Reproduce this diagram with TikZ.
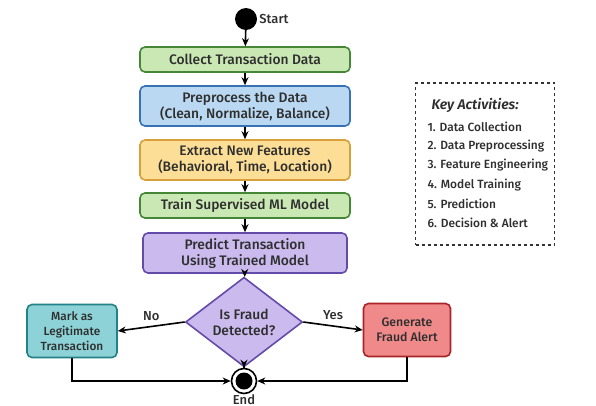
\documentclass[tikz,border=0pt]{standalone}
\usepackage{fontspec}
\setmainfont{Fira Sans}[UprightFont=* Medium, BoldFont=* SemiBold, ItalicFont=* Medium Italic, BoldItalicFont=* SemiBold Italic]
\usetikzlibrary{arrows.meta,shapes.geometric}
\definecolor{Ggreenfill}{RGB}{202,232,180}
\definecolor{Ggreenline}{RGB}{70,135,55}
\definecolor{Bbluefill}{RGB}{186,216,242}
\definecolor{Bblueline}{RGB}{55,115,180}
\definecolor{Yyellowfill}{RGB}{252,222,150}
\definecolor{Yyellowline}{RGB}{215,160,60}
\definecolor{Ppurplefill}{RGB}{202,186,238}
\definecolor{Ppurpleline}{RGB}{100,75,170}
\definecolor{Ttealfill}{RGB}{140,210,214}
\definecolor{Ttealline}{RGB}{35,130,135}
\definecolor{Rredfill}{RGB}{240,138,138}
\definecolor{Rredline}{RGB}{170,35,40}
\colorlet{Ttext}{black!82}
\tikzset{
  stepbox/.style={draw=#1line, fill=#1fill, line width=1.6pt, rounded corners=5pt,
    minimum width=210pt, align=center, text=Ttext, font=\fontsize{13.8}{16}\selectfont},
  flow/.style={line width=1.6pt, -{Stealth[length=8pt,width=7pt]}},
  tag/.style={text=Ttext, font=\fontsize{13}{15}\selectfont},
}

\begin{document}
\begin{tikzpicture}[x=1pt, y=-1pt]
\useasboundingbox[fill=white] (0,0) rectangle (596,405);

% main column
\node[circle, fill=black, minimum size=22pt, inner sep=0] (start) at (246,19) {};
\node[tag, anchor=west, inner sep=2pt] (startlabel) at (start.east) {Start};
\node[stepbox=Ggreen, minimum height=25pt] (collect) at (245,59.5) {Collect Transaction Data};
\node[stepbox=Bblue, minimum height=40pt] (preproc) at (245,106) {Preprocess the Data\\(Clean, Normalize, Balance)};
\node[stepbox=Yyellow, minimum height=40pt] (extract) at (245,160) {Extract New Features\\(Behavioral, Time, Location)};
\node[stepbox=Ggreen, minimum height=25pt] (train) at (245,205.5) {Train Supervised ML Model};
\node[stepbox=Ppurple, minimum height=40pt, minimum width=204pt] (predict) at (245,253) {Predict Transaction\\Using Trained Model};

% decision
\node[diamond, draw=Ppurpleline, fill=Ppurplefill, line width=1.6pt, minimum width=117pt, minimum height=76pt,
  inner sep=0, align=center, text=Ttext, font=\fontsize{13.8}{16}\selectfont] (fraud) at (244,322) {Is Fraud\\Detected?};
\node[stepbox=Tteal, minimum width=90pt, minimum height=53pt, font=\fontsize{11.8}{15}\selectfont] (legit) at (72,331) {Mark as\\Legitimate\\Transaction};
\node[stepbox=Rred, minimum width=87pt, minimum height=53pt, font=\fontsize{12.3}{15}\selectfont] (alert) at (407,330) {Generate\\Fraud Alert};

% end
\node[circle, draw=black, line width=1.6pt, minimum size=25pt, inner sep=0] (finish) at (244,381) {};
\fill (finish) circle (8.5pt);
\node[tag, anchor=north, inner sep=0pt] (endlabel) at (finish.south) {End};

\draw[flow] (start) -- (collect);
\draw[flow] (collect) -- (preproc);
\draw[flow] (preproc) -- (extract);
\draw[flow] (extract) -- (train);
\draw[flow] (train) -- (predict);
\draw[flow] (predict) -- (fraud);
\draw[flow] (fraud) -- (finish);
\draw[flow] (fraud.west) -- node[tag, above=2pt] {No} (legit.east);
\draw[flow] (fraud.east) -- node[tag, above=2pt] {Yes} (alert.west);
\draw[flow] (legit.south) |- (finish.west);
\draw[flow] (alert.south) |- (finish.east);

% key activities
\node[draw=black!80, dashed, line width=1.3pt, minimum width=139pt, minimum height=162pt] (keybox) at (485,164) {};
\node[anchor=west, text=Ttext, font=\fontsize{14}{16}\selectfont\itshape\bfseries] (keytitle) at (428,105) {Key Activities:};
\foreach \txt [count=\i] in {Data Collection, Data Preprocessing, Feature Engineering, Model Training, Prediction, Decision \& Alert}
  \node[anchor=west, text=Ttext, font=\fontsize{11.9}{14}\selectfont] (key\i) at (424,{107.5+19.3*\i}) {\i. \txt};
\end{tikzpicture}
\end{document}
